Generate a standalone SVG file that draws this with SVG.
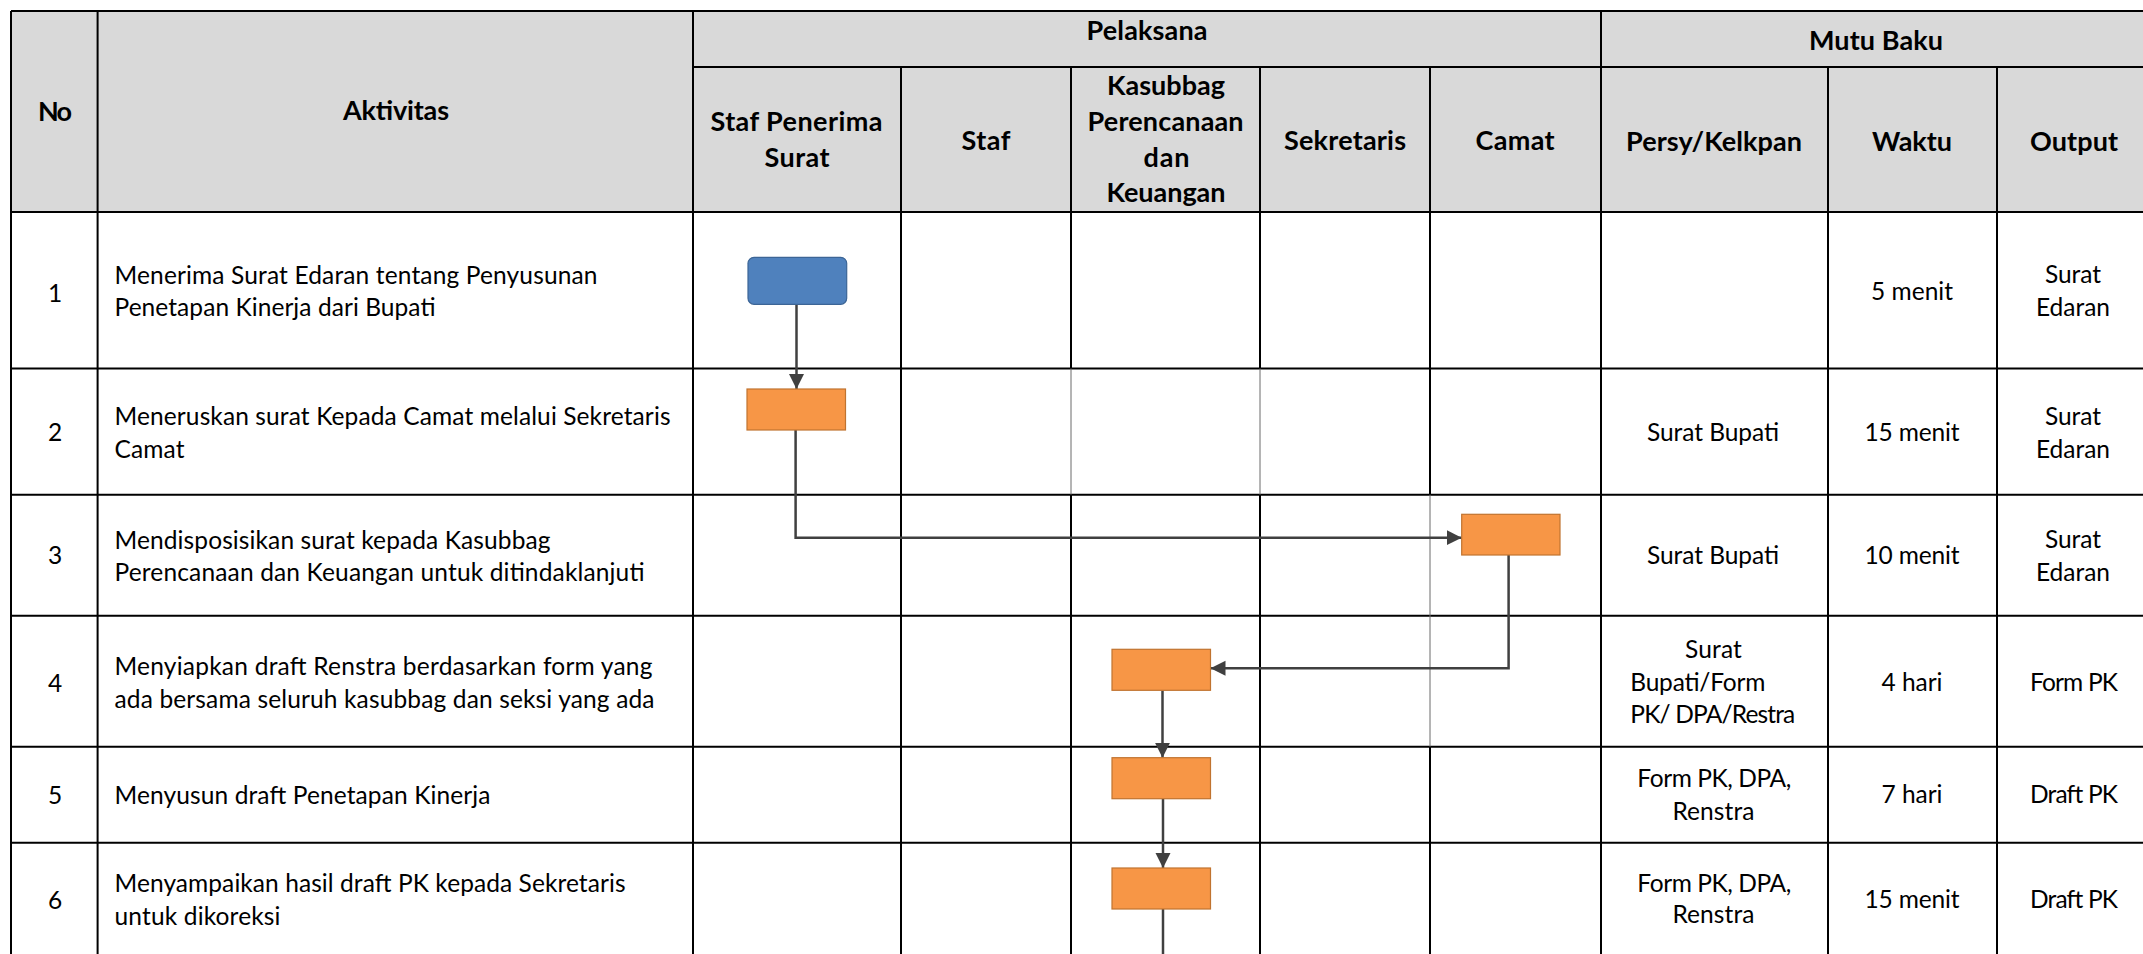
<svg xmlns="http://www.w3.org/2000/svg" width="2143" height="954" viewBox="0 0 2143 954">
<style>
text{font-family:Lato,"Liberation Sans",sans-serif;fill:#000}
.h{font-weight:bold;font-size:27px;text-anchor:middle}
.b{font-size:24.5px}
.c{text-anchor:middle}
.g{stroke:#000;stroke-width:2;fill:none}
.t{stroke:#6a6a6a;stroke-width:1;fill:none}
.box{fill:#f79646;stroke:#c0732f;stroke-width:1.2}
.start{fill:#4f81bd;stroke:#3c6596;stroke-width:1.2}
.con{stroke:#404040;stroke-width:2.5;fill:none}
</style>
<defs>
<marker id="ah" markerUnits="userSpaceOnUse" markerWidth="16" markerHeight="16" refX="15" refY="7.5" orient="auto">
<path d="M0,0 L15,7.5 L0,15 Z" fill="#404040"/>
</marker>
</defs>
<rect x="0" y="0" width="2143" height="954" fill="#fff"/>
<g id="table">
<rect x="11" y="11" width="2140" height="201" fill="#d9d9d9"/>
<path class="g" d="M11,11 H2151 M693,67 H2151 M11,212 H2151 M11,368.5 H2151 M11,494.7 H2151 M11,615.7 H2151 M11,746.7 H2151 M11,842.7 H2151"/>
<path class="g" d="M11,11 V954 M97.6,11 V954 M693,11 V954 M901,67 V954 M1601,11 V954 M1828,67 V954 M1997,67 V954 M2151,11 V954"/>
<path class="g" d="M1071,67 V368.5 M1071,494.7 V954 M1260,67 V368.5 M1260,494.7 V954 M1430,67 V494.7 M1430,746.7 V954"/>
<path class="t" d="M1071,368.5 V494.7 M1260,368.5 V494.7 M1430,494.7 V746.7"/>
</g>
<g id="header">
<text class="h" x="55" y="121" textLength="34">No</text>
<text class="h" x="396" y="120" textLength="106">Aktivitas</text>
<text class="h" x="1147" y="40" textLength="121">Pelaksana</text>
<text class="h" x="1876" y="50" textLength="134">Mutu Baku</text>
<text class="h" x="796.5" y="131" textLength="172">Staf Penerima</text>
<text class="h" x="797" y="166.5" textLength="65">Surat</text>
<text class="h" x="986" y="150" textLength="49">Staf</text>
<text class="h" x="1166" y="95" textLength="118">Kasubbag</text>
<text class="h" x="1165.6" y="131" textLength="156">Perencanaan</text>
<text class="h" x="1166.5" y="166.5" textLength="46">dan</text>
<text class="h" x="1166" y="202" textLength="119">Keuangan</text>
<text class="h" x="1345" y="150" textLength="122">Sekretaris</text>
<text class="h" x="1515" y="150" textLength="79">Camat</text>
<text class="h" x="1714" y="150.7" textLength="176">Persy/Kelkpan</text>
<text class="h" x="1912" y="150.7" textLength="80">Waktu</text>
<text class="h" x="2074" y="150.7" textLength="88">Output</text>
</g>
<g id="rows">
<text class="b c" x="55" y="301.7">1</text>
<text class="b c" x="55" y="441">2</text>
<text class="b c" x="55" y="564">3</text>
<text class="b c" x="55" y="691.7">4</text>
<text class="b c" x="55" y="804">5</text>
<text class="b c" x="55" y="909.3">6</text>
<text class="b" x="114.5" y="283.5" textLength="483">Menerima Surat Edaran tentang Penyusunan</text>
<text class="b" x="114.5" y="316" textLength="321">Penetapan Kinerja dari Bupati</text>
<text class="b" x="114.5" y="425" textLength="556">Meneruskan surat Kepada Camat melalui Sekretaris</text>
<text class="b" x="114.5" y="458.3" textLength="70">Camat</text>
<text class="b" x="114.5" y="549.3" textLength="436">Mendisposisikan surat kepada Kasubbag</text>
<text class="b" x="114.5" y="580.7" textLength="530">Perencanaan dan Keuangan untuk ditindaklanjuti</text>
<text class="b" x="114.5" y="675" textLength="538">Menyiapkan draft Renstra berdasarkan form yang</text>
<text class="b" x="114.5" y="708.3" textLength="540">ada bersama seluruh kasubbag dan seksi yang ada</text>
<text class="b" x="114.5" y="804" textLength="376">Menyusun draft Penetapan Kinerja</text>
<text class="b" x="114.5" y="891.7" textLength="511">Menyampaikan hasil draft PK kepada Sekretaris</text>
<text class="b" x="114.5" y="925" textLength="166">untuk dikoreksi</text>
<text class="b c" x="1912" y="300" textLength="82">5 menit</text>
<text class="b c" x="2073" y="283.3" textLength="56">Surat</text>
<text class="b c" x="2073" y="316" textLength="74">Edaran</text>
<text class="b c" x="1713" y="441" textLength="132">Surat Bupati</text>
<text class="b c" x="1912" y="441" textLength="95">15 menit</text>
<text class="b c" x="2073" y="425" textLength="56">Surat</text>
<text class="b c" x="2073" y="458" textLength="74">Edaran</text>
<text class="b c" x="1713" y="564" textLength="132">Surat Bupati</text>
<text class="b c" x="1912" y="564" textLength="95">10 menit</text>
<text class="b c" x="2073" y="548.3" textLength="56">Surat</text>
<text class="b c" x="2073" y="580.7" textLength="74">Edaran</text>
<text class="b c" x="1713.4" y="658.3" textLength="57">Surat</text>
<text class="b" x="1630.3" y="690.7" textLength="135">Bupati/Form</text>
<text class="b" x="1630.3" y="723.3" textLength="165">PK/ DPA/Restra</text>
<text class="b c" x="1912" y="690.7" textLength="61">4 hari</text>
<text class="b c" x="2074" y="690.7" textLength="88">Form PK</text>
<text class="b c" x="1714.3" y="787.3" textLength="154">Form PK, DPA,</text>
<text class="b c" x="1713.4" y="820" textLength="82">Renstra</text>
<text class="b c" x="1912" y="803.3" textLength="61">7 hari</text>
<text class="b c" x="2074" y="803.3" textLength="88">Draft PK</text>
<text class="b c" x="1714.3" y="891.7" textLength="154">Form PK, DPA,</text>
<text class="b c" x="1713.4" y="923.3" textLength="82">Renstra</text>
<text class="b c" x="1912" y="908.3" textLength="95">15 menit</text>
<text class="b c" x="2074" y="908.3" textLength="88">Draft PK</text>
</g>
<g id="connectors">
<path class="con" d="M796.5,304.5 V389" marker-end="url(#ah)"/>
<path class="con" d="M795.6,430 V537.7 H1461.7" marker-end="url(#ah)"/>
<path class="con" d="M1508.6,555 V668.3 H1210.5" marker-end="url(#ah)"/>
<path class="con" d="M1162.5,690.5 V757.7" marker-end="url(#ah)"/>
<path class="con" d="M1163,799 V868" marker-end="url(#ah)"/>
<path class="con" d="M1163,909 V954"/>
</g>
<g id="n1"><rect class="start" x="748" y="257.3" width="98.7" height="47" rx="6"/></g>
<g id="n2"><rect class="box" x="747" y="389" width="98.5" height="41"/></g>
<g id="n3"><rect class="box" x="1461.7" y="514.3" width="98.3" height="40.7"/></g>
<g id="n4"><rect class="box" x="1112" y="649.3" width="98.5" height="41"/></g>
<g id="n5"><rect class="box" x="1112" y="757.7" width="98.5" height="41"/></g>
<g id="n6"><rect class="box" x="1112" y="868" width="98.5" height="41"/></g>
</svg>
